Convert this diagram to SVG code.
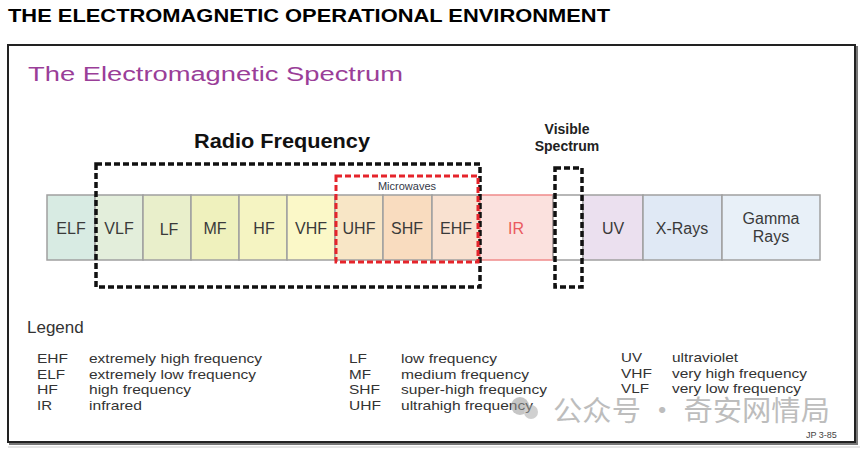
<svg xmlns="http://www.w3.org/2000/svg" width="865" height="450" viewBox="0 0 865 450">
<style>
.cell{stroke:#a0a0a0;stroke-width:1.5}
.lbl{font-family:"Liberation Sans",Arial,sans-serif;font-size:16px;fill:#3a3a3a;text-anchor:middle}
.leg{font-family:"Liberation Sans",Arial,sans-serif;font-size:13.5px;fill:#333}
.bdash{fill:none;stroke:#111;stroke-width:3.5;stroke-dasharray:6 3}
.rdash{fill:none;stroke:#e5242b;stroke-width:3;stroke-dasharray:6 3}
</style>
<rect width="865" height="450" fill="#fff"/>
<text x="8" y="22" font-family="Liberation Sans,Arial,sans-serif" font-weight="bold" font-size="18" fill="#000" textLength="602" lengthAdjust="spacingAndGlyphs">THE ELECTROMAGNETIC OPERATIONAL ENVIRONMENT</text>
<g id="frame">
<rect x="10" y="47" width="847" height="397" fill="none" stroke="#777" stroke-width="2"/>
<rect x="8" y="45" width="847" height="397" fill="#fff" stroke="#222" stroke-width="2"/>
<line x1="8" y1="447" x2="860" y2="447" stroke="#ccc" stroke-width="1"/>
</g>
<text x="28" y="81" font-family="Liberation Sans,Arial,sans-serif" font-size="20" fill="#9a3e98" textLength="375" lengthAdjust="spacingAndGlyphs">The Electromagnetic Spectrum</text>

<g id="spectrum">
<g id="elf"><rect class="cell" x="47" y="195" width="48" height="65" fill="#d8ebe3"/><text class="lbl" x="71" y="234">ELF</text></g>
<g id="vlf"><rect class="cell" x="95" y="195" width="48" height="65" fill="#e3eedb"/><text class="lbl" x="119" y="234">VLF</text></g>
<g id="lf"><rect class="cell" x="143" y="195" width="48" height="65" fill="#e9efcb"/><text class="lbl" x="169" y="235">LF</text></g>
<g id="mf"><rect class="cell" x="191" y="195" width="48" height="65" fill="#eff1bd"/><text class="lbl" x="215" y="234">MF</text></g>
<g id="hf"><rect class="cell" x="239" y="195" width="48" height="65" fill="#f5f4c2"/><text class="lbl" x="264" y="234">HF</text></g>
<g id="vhf"><rect class="cell" x="287" y="195" width="48" height="65" fill="#fbf8c8"/><text class="lbl" x="311" y="234">VHF</text></g>
<g id="uhf"><rect class="cell" x="335" y="195" width="48" height="65" fill="#f8e6c6"/><text class="lbl" x="359" y="234">UHF</text></g>
<g id="shf"><rect class="cell" x="383" y="195" width="49" height="65" fill="#f9dcbf"/><text class="lbl" x="407" y="234">SHF</text></g>
<g id="ehf"><rect class="cell" x="432" y="195" width="48" height="65" fill="#f9e1d0"/><text class="lbl" x="456" y="234">EHF</text></g>
<g id="ir"><rect x="480" y="195" width="73" height="65" fill="#fbe1de" stroke="#f08a8a" stroke-width="1.5"/><text class="lbl" x="516" y="234" style="fill:#ea5a60">IR</text></g>
<g id="visible"><rect class="cell" x="553" y="195" width="30" height="65" fill="#fff"/></g>
<g id="uv"><rect class="cell" x="583" y="195" width="60" height="65" fill="#ebe0ef"/><text class="lbl" x="613" y="234">UV</text></g>
<g id="xrays"><rect class="cell" x="643" y="195" width="79" height="65" fill="#e0e9f5"/><text class="lbl" x="682" y="234">X-Rays</text></g>
<g id="gamma"><rect class="cell" x="722" y="195" width="98" height="65" fill="#e8f0f8"/><text class="lbl" x="771" y="224">Gamma</text><text class="lbl" x="771" y="242">Rays</text></g>
</g>

<g id="groups">
<g id="radio"><rect class="bdash" x="96" y="164" width="384" height="123"/><text x="282" y="148" font-family="Liberation Sans,Arial,sans-serif" font-weight="bold" font-size="20" fill="#111" text-anchor="middle" textLength="176" lengthAdjust="spacingAndGlyphs">Radio Frequency</text></g>
<g id="microwaves"><rect class="rdash" x="336" y="176" width="142" height="86"/><text x="407" y="190" font-family="Liberation Sans,Arial,sans-serif" font-size="11" fill="#333848" text-anchor="middle">Microwaves</text></g>
<g id="visible-box"><rect class="bdash" x="555" y="168" width="27" height="119"/><text x="567" y="134" font-family="Liberation Sans,Arial,sans-serif" font-weight="bold" font-size="14" fill="#222" text-anchor="middle">Visible</text><text x="567" y="151" font-family="Liberation Sans,Arial,sans-serif" font-weight="bold" font-size="14" fill="#222" text-anchor="middle">Spectrum</text></g>
</g>

<g id="legend">
<text x="27" y="333" font-family="Liberation Sans,Arial,sans-serif" font-size="17" fill="#333">Legend</text>
<text class="leg" x="37" y="363" textLength="31" lengthAdjust="spacingAndGlyphs">EHF</text><text class="leg" x="89" y="363" textLength="173" lengthAdjust="spacingAndGlyphs">extremely high frequency</text>
<text class="leg" x="37" y="379" textLength="28" lengthAdjust="spacingAndGlyphs">ELF</text><text class="leg" x="89" y="379" textLength="167" lengthAdjust="spacingAndGlyphs">extremely low frequency</text>
<text class="leg" x="37" y="394" textLength="21" lengthAdjust="spacingAndGlyphs">HF</text><text class="leg" x="89" y="394" textLength="102" lengthAdjust="spacingAndGlyphs">high frequency</text>
<text class="leg" x="37" y="410" textLength="15" lengthAdjust="spacingAndGlyphs">IR</text><text class="leg" x="89" y="410" textLength="53" lengthAdjust="spacingAndGlyphs">infrared</text>
<text class="leg" x="349" y="363" textLength="18" lengthAdjust="spacingAndGlyphs">LF</text><text class="leg" x="401" y="363" textLength="96" lengthAdjust="spacingAndGlyphs">low frequency</text>
<text class="leg" x="349" y="379" textLength="22" lengthAdjust="spacingAndGlyphs">MF</text><text class="leg" x="401" y="379" textLength="128" lengthAdjust="spacingAndGlyphs">medium frequency</text>
<text class="leg" x="349" y="394" textLength="31" lengthAdjust="spacingAndGlyphs">SHF</text><text class="leg" x="401" y="394" textLength="146" lengthAdjust="spacingAndGlyphs">super-high frequency</text>
<text class="leg" x="349" y="410" textLength="32" lengthAdjust="spacingAndGlyphs">UHF</text><text class="leg" x="401" y="410" textLength="132" lengthAdjust="spacingAndGlyphs">ultrahigh frequency</text>
<text class="leg" x="621" y="362" textLength="21" lengthAdjust="spacingAndGlyphs">UV</text><text class="leg" x="672" y="362" textLength="66" lengthAdjust="spacingAndGlyphs">ultraviolet</text>
<text class="leg" x="621" y="378" textLength="31" lengthAdjust="spacingAndGlyphs">VHF</text><text class="leg" x="672" y="378" textLength="135" lengthAdjust="spacingAndGlyphs">very high frequency</text>
<text class="leg" x="621" y="393" textLength="28" lengthAdjust="spacingAndGlyphs">VLF</text><text class="leg" x="672" y="393" textLength="129" lengthAdjust="spacingAndGlyphs">very low frequency</text>
</g>
<text x="806" y="438" font-family="Liberation Sans,Arial,sans-serif" font-size="9" fill="#444">JP 3-85</text>
<g id="watermark" opacity="0.55">
<circle cx="520" cy="406" r="9" fill="#999"/><circle cx="531" cy="412" r="7" fill="#aaa"/>
<text x="553" y="421" font-family="Noto Sans CJK SC,sans-serif" font-size="28" fill="#888" textLength="277" lengthAdjust="spacingAndGlyphs">公众号 · 奇安网情局</text>
</g>
</svg>
